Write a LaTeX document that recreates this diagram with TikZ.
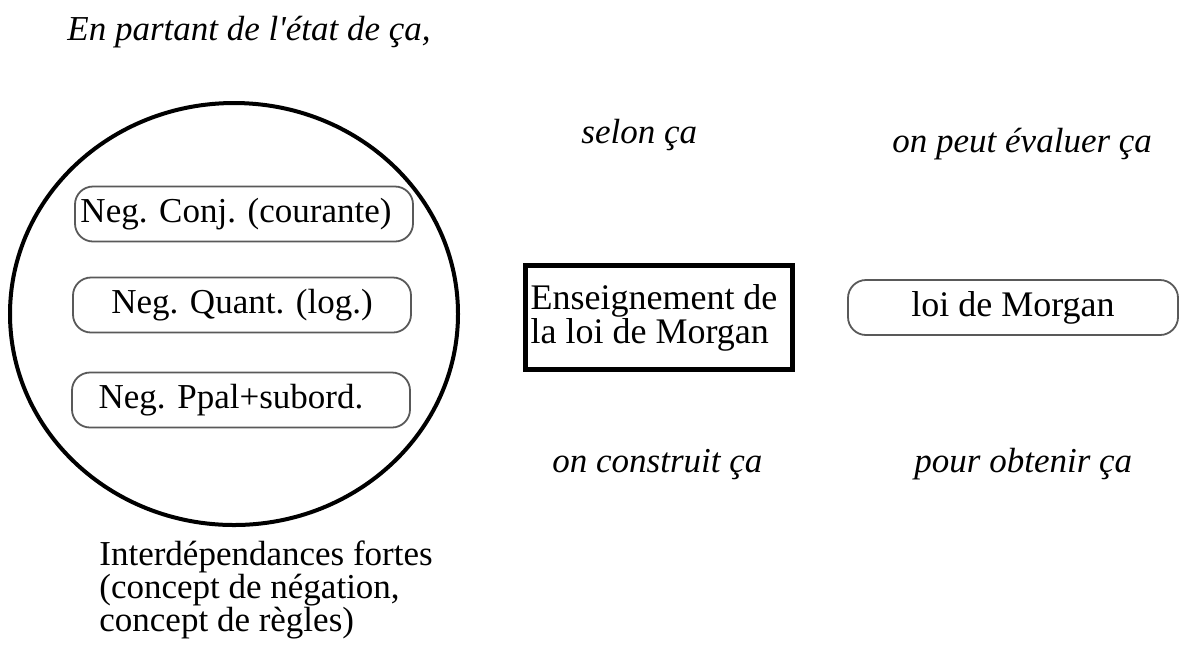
\documentclass[tikz,border=0pt]{standalone}
\usepackage{fontspec}
\setmainfont{Liberation Serif}
\usetikzlibrary{shapes.geometric}
\newcommand\figfont{\fontsize{17.5}{16.5}\selectfont}
\newcommand\boxfont{\fontsize{18}{17}\selectfont}
\tikzset{
	ring/.style={ellipse,draw=black,line width=2pt,inner sep=0pt, minimum width=224pt, minimum height=211pt},
	pill/.style={rectangle,rounded corners=9pt,draw=black!65,line width=0.9pt,inner sep=0pt, minimum width=169pt, minimum height=27.5pt},
	frame/.style={rectangle,draw=black,line width=2.5pt,inner sep=0pt,align=left,font=\boxfont, minimum width=133.5pt, minimum height=52pt},
	note/.style={anchor=base west,inner sep=0pt,font=\figfont\itshape},
	labl/.style={anchor=north west,inner sep=0pt,align=left},
	}

\begin{document}
\begin{tikzpicture}[x=0.5pt,y=-0.5pt,font=\figfont]
\useasboundingbox (0,0) rectangle (1186,645);

\node (start) at (67,40) [note] {En partant de l\textquotesingle état de ça,};

% left part
\node (circ) at (234,314) [ring] {};
\node (conj) at (244,214) [pill] {\hspace*{-8pt}Neg. Conj. (courante)};
\node (quant) at (242,305) [pill] {Neg. Quant. (log.)};
\node (ppal) at (241,400) [pill] {\hspace*{-10pt}Neg. Ppal+subord.};
\node (interd) at (99,540) [labl] {Interdépendances fortes\\(concept de négation,\\concept de règles)};

% middle and right
\node (teach) at (659,317.5) [frame] {\hspace*{-5pt}Enseignement de\\\hspace*{-5pt}la loi de Morgan};
\node (law) at (1013,307.5) [pill,font=\boxfont,minimum width=165pt] {loi de Morgan};

\node (selon) at (581,143) [note] {selon ça};
\node (eval) at (892,152) [note] {on peut évaluer ça};
\node (constr) at (552,472) [note] {on construit ça};
\node (obten) at (914,472) [note] {pour obtenir ça};
\end{tikzpicture}
\end{document}
